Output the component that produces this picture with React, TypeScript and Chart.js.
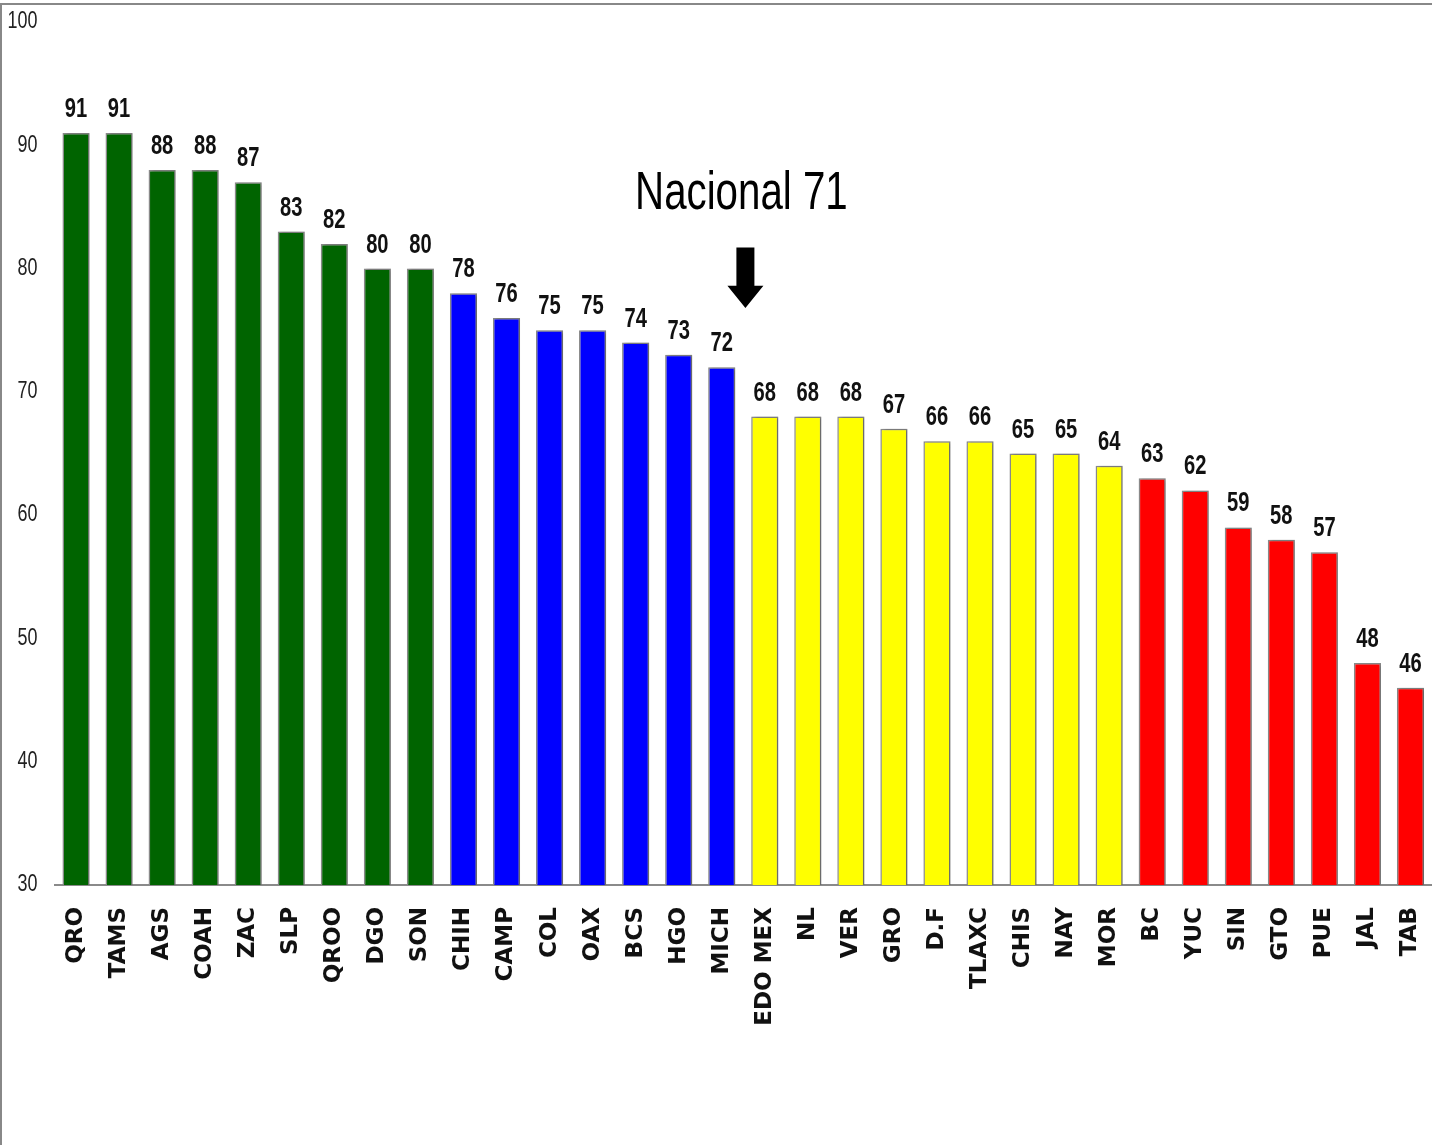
import React, { useEffect, useRef } from "react";
import { Chart, registerables } from "chart.js";

Chart.register(...registerables);

const categories = [
  "QRO", "TAMS", "AGS", "COAH", "ZAC", "SLP", "QROO", "DGO", "SON",
  "CHIH", "CAMP", "COL", "OAX", "BCS", "HGO", "MICH",
  "EDO MEX", "NL", "VER", "GRO", "D.F", "TLAXC", "CHIS", "NAY", "MOR",
  "BC", "YUC", "SIN", "GTO", "PUE", "JAL", "TAB",
];

const values = [
  91, 91, 88, 88, 87, 83, 82, 80, 80,
  78, 76, 75, 75, 74, 73, 72,
  68, 68, 68, 67, 66, 66, 65, 65, 64,
  63, 62, 59, 58, 57, 48, 46,
];

const groupColors = ["#006400", "#0000FF", "#FFFF00", "#FF0000"];
const groupOf = [
  0, 0, 0, 0, 0, 0, 0, 0, 0,
  1, 1, 1, 1, 1, 1, 1,
  2, 2, 2, 2, 2, 2, 2, 2, 2,
  3, 3, 3, 3, 3, 3, 3,
];

const yTicks = [30, 40, 50, 60, 70, 80, 90, 100];

const nationalLabel = "Nacional 71";
const nationalIndex = 15.55; // between MICH and EDO MEX
const nationalTextValue = 86;
const arrowTopValue = 81.7;
const arrowHeadValue = 78.6;
const arrowTipValue = 76.8;

const SANS = '"Liberation Sans", Arial, sans-serif';

function narrowText(ctx: any, text: string, x: number, y: number, sx: number) {
  ctx.save();
  ctx.translate(x, y);
  ctx.scale(sx, 1);
  ctx.fillText(text, 0, 0);
  ctx.restore();
}

const valueLabelPlugin = {
  id: "valueLabels",
  beforeDatasetDraw(chart: any) {
    const ctx = chart.ctx;
    ctx.save();
    ctx.shadowColor = "rgba(0,0,0,0.3)";
    ctx.shadowBlur = 3;
    ctx.shadowOffsetX = 2;
    ctx.shadowOffsetY = 0;
  },
  afterDatasetDraw(chart: any) {
    chart.ctx.restore();
  },
  afterDatasetsDraw(chart: any) {
    const ctx = chart.ctx;
    const meta = chart.getDatasetMeta(0);
    const xs = chart.scales.x;
    const ys = chart.scales.y;
    ctx.save();

    // value labels
    ctx.font = `bold 28px ${SANS}`;
    ctx.fillStyle = "#111";
    ctx.textAlign = "center";
    ctx.textBaseline = "alphabetic";
    meta.data.forEach((bar: any, i: number) => {
      narrowText(ctx, String(values[i]), bar.x, bar.y - 16, 0.72);
    });

    // y tick labels
    ctx.font = `23px ${SANS}`;
    ctx.fillStyle = "#222";
    ctx.textAlign = "right";
    ctx.textBaseline = "middle";
    yTicks.forEach((v) => {
      narrowText(ctx, String(v), 37.5, ys.getPixelForValue(v), 0.78);
    });

    // Nacional annotation
    const cx = xs.getPixelForValue(nationalIndex);
    ctx.font = `53px ${SANS}`;
    ctx.textAlign = "center";
    ctx.textBaseline = "middle";
    ctx.fillStyle = "#000";
    narrowText(ctx, nationalLabel, cx - 4, ys.getPixelForValue(nationalTextValue), 0.76);

    const top = ys.getPixelForValue(arrowTopValue);
    const head = ys.getPixelForValue(arrowHeadValue);
    const tip = ys.getPixelForValue(arrowTipValue);
    ctx.beginPath();
    ctx.moveTo(cx - 9, top);
    ctx.lineTo(cx + 9, top);
    ctx.lineTo(cx + 9, head);
    ctx.lineTo(cx + 18, head);
    ctx.lineTo(cx, tip);
    ctx.lineTo(cx - 18, head);
    ctx.lineTo(cx - 9, head);
    ctx.closePath();
    ctx.fill();

    // frame
    ctx.strokeStyle = "#888";
    ctx.lineWidth = 2;
    ctx.beginPath();
    ctx.moveTo(1, chart.height);
    ctx.lineTo(1, 4);
    ctx.lineTo(chart.width, 4);
    ctx.stroke();
    ctx.restore();
  },
};

export default function App() {
  const ref = useRef<HTMLCanvasElement>(null);
  useEffect(() => {
    document.body.style.margin = "0";
    const chart = new Chart(ref.current!, {
      type: "bar",
      data: {
        labels: categories,
        datasets: [
          {
            data: values,
            backgroundColor: groupOf.map((g) => groupColors[g]),
            borderColor: "#8a8a8a",
            borderWidth: 1.5,
            barPercentage: 0.63,
            categoryPercentage: 1,
          },
        ],
      },
      options: {
        animation: false,
        responsive: false,
        devicePixelRatio: 1,
        layout: { padding: { top: 22, left: 0, right: 0, bottom: 0 } },
        plugins: { legend: { display: false }, tooltip: { enabled: false } },
        scales: {
          x: {
            grid: { display: false, drawTicks: false },
            border: { display: true, color: "#8a8a8a", width: 2 },
            ticks: {
              autoSkip: false,
              maxRotation: 90,
              minRotation: 90,
              padding: 22,
              color: "#111",
              font: { family: '"DejaVu Sans", Verdana, sans-serif', size: 23, weight: "bold" },
            },
            afterFit(scale: any) {
              scale.height = 260;
              scale.paddingLeft = 0;
              scale.paddingRight = 0;
            },
          },
          y: {
            min: 30,
            max: 100,
            grid: { display: false, drawTicks: false },
            border: { display: false },
            afterBuildTicks(scale: any) {
              scale.ticks = yTicks.map((v) => ({ value: v }));
            },
            ticks: { display: false },
            afterFit(scale: any) {
              scale.width = 54.5;
              scale.paddingTop = 0;
              scale.paddingBottom = 0;
            },
          },
        },
      },
      plugins: [valueLabelPlugin],
    });
    return () => chart.destroy();
  }, []);
  return (
    <div style={{ width: 1432, height: 1145, background: "#fff" }}>
      <canvas ref={ref} width={1432} height={1145} style={{ display: "block" }} />
    </div>
  );
}
